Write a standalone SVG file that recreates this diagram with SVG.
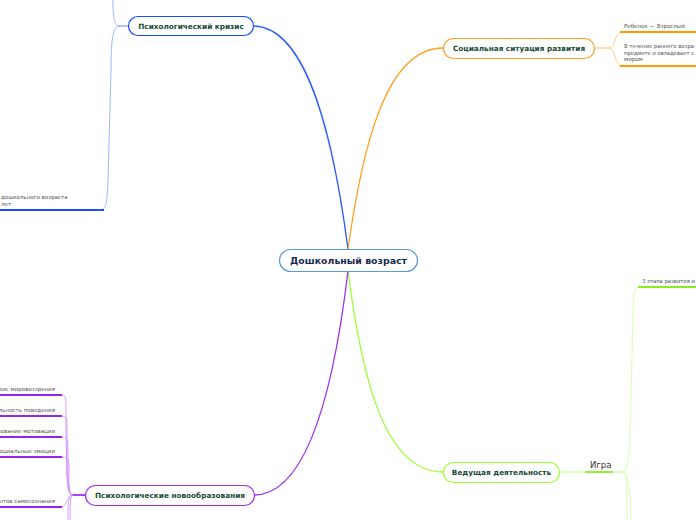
<svg xmlns="http://www.w3.org/2000/svg" width="696" height="520" viewBox="0 0 696 520">
<style>
.node{fill:#fff;stroke-width:1.2}
.nt{font-family:"DejaVu Sans",Verdana,sans-serif;font-weight:bold;font-size:7.3px;fill:#174a36;text-anchor:middle}
.ct{font-family:"DejaVu Sans",Verdana,sans-serif;font-weight:bold;font-size:9.4px;fill:#1a2850;text-anchor:middle}
.st{font-family:"DejaVu Sans",Verdana,sans-serif;font-size:5.5px;fill:#555}
.c{fill:none;stroke-linecap:round}
</style>
<rect width="696" height="520" fill="#fff"/>
<g id="connectors">
  <path class="c" d="M348,249 C335,150 310,26 253,26" stroke="#2a5cff" stroke-width="1.3"/>
  <path class="c" d="M348,249 C362,150 385,48 443,48" stroke="#ffa020" stroke-width="1.3"/>
  <path class="c" d="M348,271 C362,380 385,472 443,472" stroke="#99ff33" stroke-width="1.3"/>
  <path class="c" d="M348,271 C335,380 310,495 254,495" stroke="#a030f0" stroke-width="1.3"/>
  <path class="c" d="M128,26 L119,26" stroke="#6688ff" stroke-width="1"/>
  <path class="c" d="M119,26 C113,26 113,12 113,-2" stroke="#88a4ff" stroke-width="0.8"/>
  <path class="c" d="M119,26 C112,26 111,45 111,70 L108,180 C107,200 107,210 101,210" stroke="#88a4ff" stroke-width="0.8"/>
  <path d="M0,210 L104,210" stroke="#1a4cff" stroke-width="1.8"/>
  <path class="c" d="M594,48 L609,48" stroke="#ffc060" stroke-width="1"/>
  <path class="c" d="M609,48 C616,48 614,32 622,32" stroke="#ffc060" stroke-width="0.8"/>
  <path class="c" d="M609,48 C616,48 614,66 622,66" stroke="#ffc060" stroke-width="0.8"/>
  <path d="M620,32 L696,32" stroke="#ff9900" stroke-width="1.8"/>
  <path d="M620,66 L696,66" stroke="#ff9900" stroke-width="1.8"/>
  <path class="c" d="M559,472 L585,472" stroke="#bbff88" stroke-width="1"/>
  <path d="M585,472 L613,472" stroke="#88ee22" stroke-width="1.8"/>
  <path class="c" d="M613,472 L623,472" stroke="#bbff88" stroke-width="1"/>
  <path class="c" d="M623,472 C629,472 630,440 631,400 L633,310 C634,292 634,287 640,287" stroke="#ccff99" stroke-width="0.8"/>
  <path d="M638,287 L696,287" stroke="#88ee22" stroke-width="1.8"/>
  <path class="c" d="M623,472 C628,472 627,490 627,522" stroke="#ccff99" stroke-width="0.8"/>
  <path class="c" d="M623,472 C630,474 630,495 631,522" stroke="#ccff99" stroke-width="0.8"/>
  <path d="M72,495 L85,495" stroke="#a030f0" stroke-width="1.8"/>
  <path class="c" d="M72,495 C66,495 67,470 66,430 L66,410 C66,398 66,395 61,395" stroke="#cc88ff" stroke-width="0.8"/>
  <path class="c" d="M72,495 C66,495 67,470 67,440 L67,430 C67,419 67,416 61,416" stroke="#cc88ff" stroke-width="0.8"/>
  <path class="c" d="M72,495 C67,495 68,470 68,450 C68,440 67,437 61,437" stroke="#cc88ff" stroke-width="0.8"/>
  <path class="c" d="M72,495 C68,495 69,475 69,465 C69,459 67,457 61,457" stroke="#cc88ff" stroke-width="0.8"/>
  <path class="c" d="M72,495 C67,495 67,507 61,507" stroke="#cc88ff" stroke-width="0.8"/>
  <path class="c" d="M72,495 C68,496 68,505 68,522" stroke="#cc88ff" stroke-width="0.8"/>
  <path class="c" d="M72,495 C70,497 70,508 70,522" stroke="#cc88ff" stroke-width="0.8"/>
  <path d="M0,395 L62,395 M0,416 L62,416 M0,437 L62,437 M0,457 L62,457 M0,507 L62,507" stroke="#9922ee" stroke-width="1.8"/>
</g>
<g id="center">
  <rect class="node" x="279.5" y="249.5" width="138" height="22" rx="11" stroke="#5a9ad6" stroke-width="1"/>
  <text class="ct" x="348.5" y="263.5">Дошкольный возраст</text>
</g>
<g id="crisis">
  <rect class="node" x="128.5" y="16.5" width="125" height="19" rx="9.5" stroke="#1a4cff"/>
  <text class="nt" x="191" y="28.8">Психологический кризис</text>
</g>
<g id="crisis-leaf">
  <text class="st" x="1" y="199">дошкольного возраста</text>
  <text class="st" x="1" y="206">лет</text>
</g>
<g id="social">
  <rect class="node" x="443.5" y="38.5" width="151" height="20" rx="10" stroke="#ffa020"/>
  <text class="nt" x="519" y="51">Социальная ситуация развития</text>
</g>
<g id="social-leaves">
  <text class="st" x="624" y="28">Ребенок — Взрослый</text>
  <text class="st" x="624" y="48" textLength="70" lengthAdjust="spacingAndGlyphs">В течение раннего возра</text>
  <text class="st" x="624" y="55" textLength="70" lengthAdjust="spacingAndGlyphs">предмете и овладевает с</text>
  <text class="st" x="624" y="61">миром</text>
</g>
<g id="lead">
  <rect class="node" x="443.5" y="462.5" width="116" height="20" rx="10" stroke="#99ff33"/>
  <text class="nt" x="501.5" y="475">Ведущая деятельность</text>
</g>
<g id="game">
  <text x="590" y="468" font-family="DejaVu Sans,Verdana,sans-serif" font-size="8.5" fill="#333">Игра</text>
</g>
<g id="game-leaf">
  <text class="st" x="642" y="283" textLength="53" lengthAdjust="spacingAndGlyphs">3 этапа развития и</text>
</g>
<g id="neo">
  <rect class="node" x="85.5" y="485.5" width="169" height="20" rx="10" stroke="#a030f0"/>
  <text class="nt" x="170" y="498">Психологические новообразования</text>
</g>
<g id="neo-leaves">
  <text class="st" x="55" y="391" text-anchor="end">рис мировоззрения</text>
  <text class="st" x="55" y="412" text-anchor="end">льность поведения</text>
  <text class="st" x="55" y="433" text-anchor="end">зование мотивации</text>
  <text class="st" x="55" y="453" text-anchor="end">Социальные эмоции</text>
  <text class="st" x="55" y="503" text-anchor="end">нтов самосознания</text>
</g>
</svg>
